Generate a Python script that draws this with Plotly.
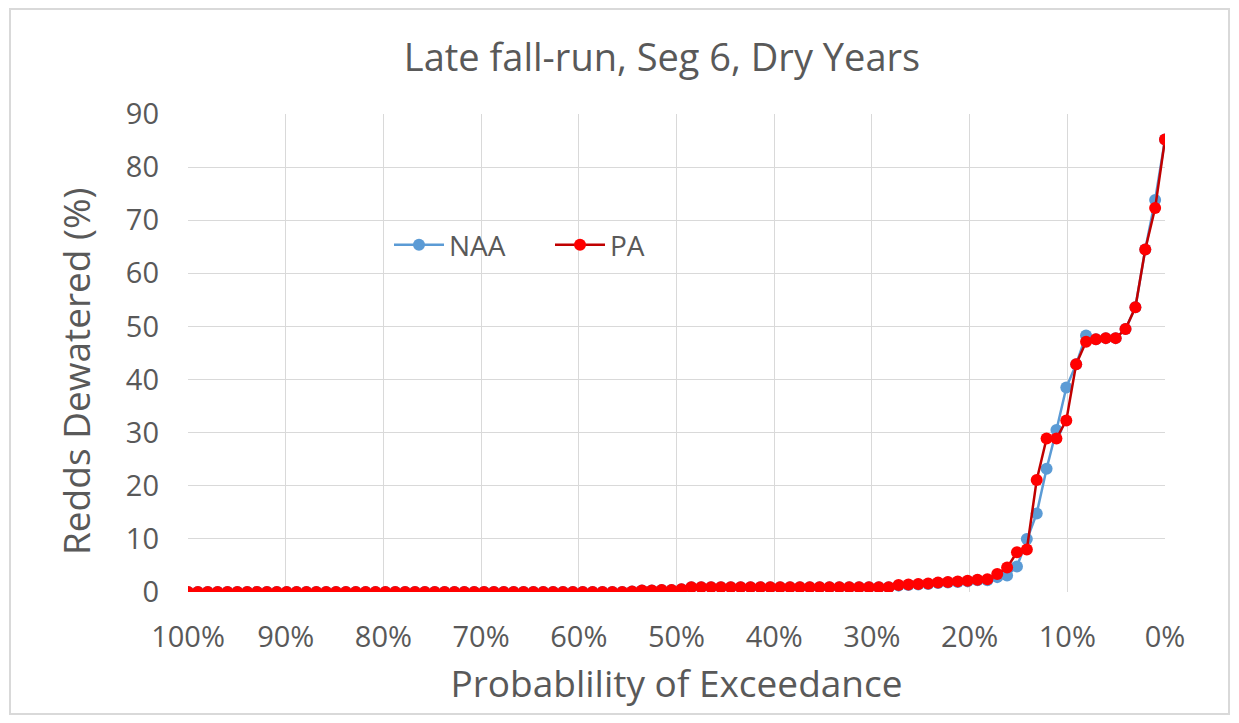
import numpy as np
import plotly.graph_objects as go

# Data: values ordered from 100% exceedance (left) to 0% (right)
n_zero = 45
low_rise = [0.1, 0.3, 0.3, 0.4, 0.4, 0.5]
plateau = [0.9] * 21
pa_tail = [1.3, 1.4, 1.5, 1.6, 1.8, 1.9, 2.0, 2.1, 2.3, 2.4, 3.4, 4.6, 7.5, 8.0,
           21.1, 28.9, 28.9, 32.3, 42.9, 47.1, 47.6, 47.8, 47.8, 49.5, 53.6,
           64.5, 72.3, 85.2]
naa_tail = [1.2, 1.3, 1.4, 1.5, 1.7, 1.8, 1.9, 2.0, 2.2, 2.2, 2.8, 3.1, 4.8, 10.0,
            14.8, 23.2, 30.5, 38.5, 42.9, 48.3, 47.6, 47.8, 47.8, 49.5, 53.6,
            64.5, 73.8, 85.2]

pa = [0.0] * n_zero + low_rise + plateau + pa_tail
naa = [0.0] * n_zero + low_rise + plateau + naa_tail
n = len(pa)
exceedance = list(np.linspace(100, 0, n))

x_ticks = [100, 90, 80, 70, 60, 50, 40, 30, 20, 10, 0]
x_tick_labels = ["100%", "90%", "80%", "70%", "60%", "50%", "40%", "30%", "20%", "10%", "0%"]
y_ticks = [0, 10, 20, 30, 40, 50, 60, 70, 80, 90]

FONT = "Open Sans"
GRAY = "#595959"
GRID = "#D9D9D9"

# page body margin offset (screen px)
OFF = 8
W, H = 1239 - 2 * OFF, 723 - 2 * OFF
L, R, T, B = 188 - OFF, W - (1165 - OFF), 114 - OFF, H - (592 - OFF)
pw = W - L - R
ph = H - T - B

def px_x(p):  # screen px -> paper x
    return (p - OFF - L) / pw

def px_y(p):  # screen px -> paper y
    return (H - B - (p - OFF)) / ph

fig = go.Figure()
fig.add_trace(go.Scatter(
    x=exceedance, y=naa, name="NAA", mode="lines+markers",
    line=dict(color="#5B9BD5", width=2.5),
    marker=dict(color="#5B9BD5", size=12),
))
fig.add_trace(go.Scatter(
    x=exceedance, y=pa, name="PA", mode="lines+markers",
    line=dict(color="#C00000", width=2.5),
    marker=dict(color="#FF0000", size=12),
))

fig.update_layout(
    width=W, height=H,
    margin=dict(l=L, r=R, t=T, b=B),
    paper_bgcolor="white", plot_bgcolor="white",
    font=dict(family=FONT, color=GRAY),
    title=dict(text="Late fall-run, Seg 6, Dry Years", x=(662 - OFF) / W, xanchor="center",
               y=1 - (58 - OFF) / H, yanchor="middle",
               font=dict(size=38, color=GRAY, family=FONT)),
    showlegend=True,
    legend=dict(orientation="h", x=px_x(389), y=px_y(245), xanchor="left", yanchor="middle",
                font=dict(size=28, color=GRAY, family=FONT), bgcolor="rgba(0,0,0,0)",
                itemwidth=50, entrywidth=96, entrywidthmode="pixels"),
    xaxis=dict(range=[100, 0], tickmode="array", tickvals=x_ticks, ticktext=x_tick_labels,
               showgrid=True, gridcolor=GRID, gridwidth=1.3, zeroline=False,
               showline=False, ticks="", ticklabelstandoff=25,
               tickfont=dict(size=29, color=GRAY, family=FONT),
               title=dict(text="Probablility of Exceedance", standoff=17,
                          font=dict(size=37, color=GRAY, family=FONT))),
    yaxis=dict(range=[0, 90], tickmode="array", tickvals=y_ticks,
               showgrid=True, gridcolor=GRID, gridwidth=1.3, zeroline=False,
               showline=False, ticks="", ticklabelstandoff=28,
               tickfont=dict(size=29, color=GRAY, family=FONT)),
)

fig.add_annotation(text="Redds Dewatered (%)", textangle=-90, showarrow=False,
                   xref="paper", yref="paper", x=px_x(75), y=px_y(371),
                   xanchor="center", yanchor="middle",
                   font=dict(size=37, color=GRAY, family=FONT))

fig.add_shape(type="rect", xref="paper", yref="paper",
              x0=px_x(10), x1=px_x(1229), y0=px_y(714), y1=px_y(9),
              line=dict(color="#D9D9D9", width=2), fillcolor="rgba(0,0,0,0)", layer="below")

fig.write_html("out.html")
